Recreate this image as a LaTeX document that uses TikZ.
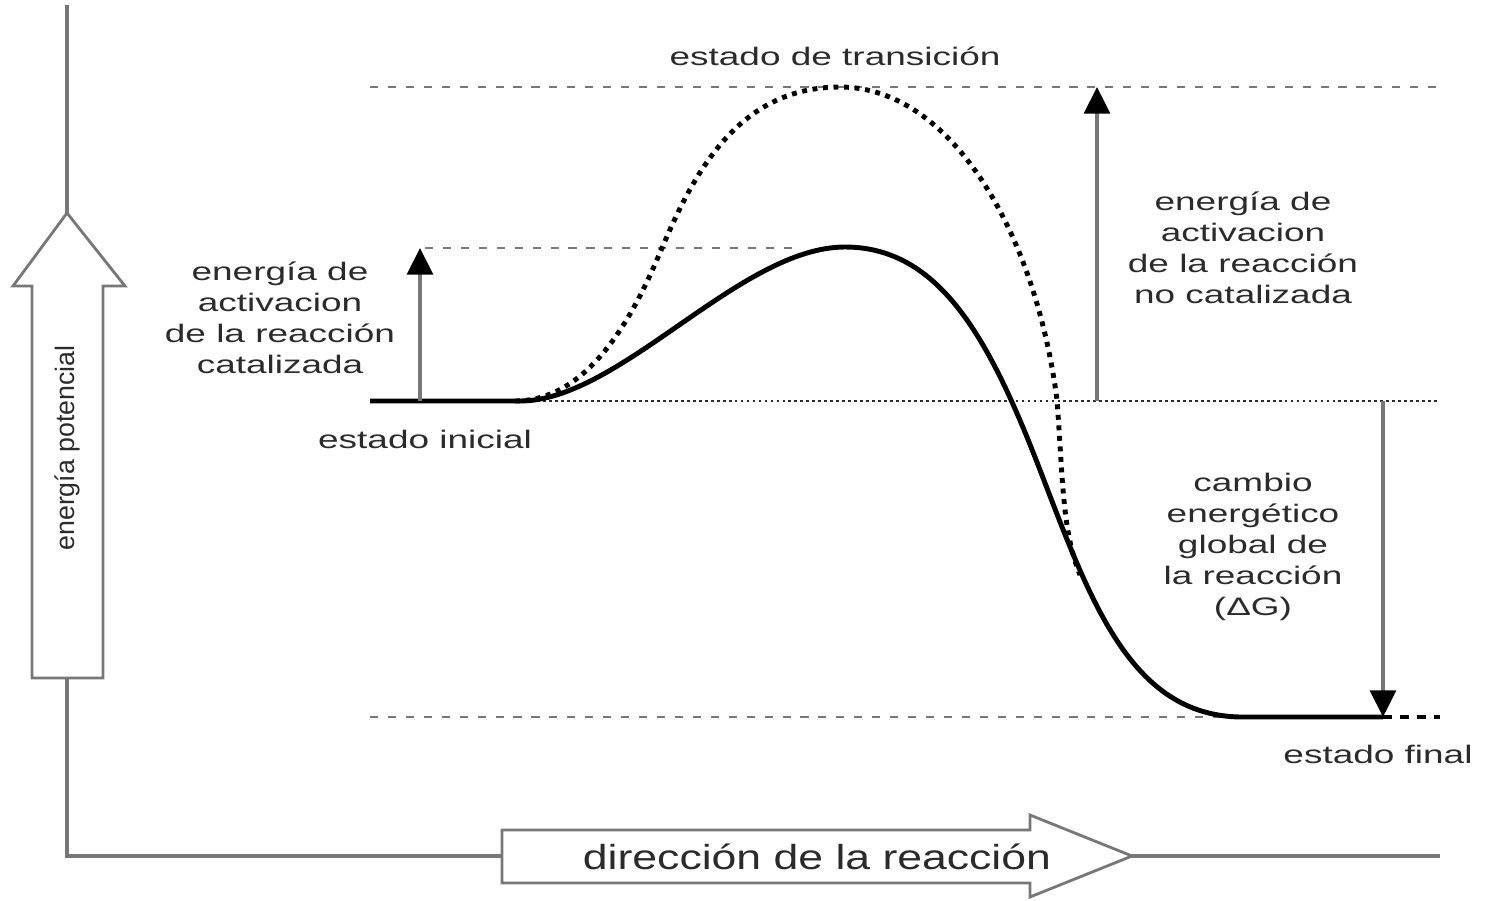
\documentclass[tikz,border=0pt]{standalone}
\usepackage{fontspec}
\setmainfont{Liberation Sans}
\usetikzlibrary{arrows.meta}
\definecolor{textogris}{HTML}{2B2B2B}
\definecolor{lineagris}{HTML}{777777}
\tikzset{
  rotulo/.style={text=textogris, font=\fontsize{7.2}{8.8}\selectfont, align=center, inner sep=0pt, xscale=1.46, transform shape},
  nivel/.style={lineagris, line width=0.8pt, dash pattern=on 2.3pt off 2.8pt},
  nivelfino/.style={textogris, line width=0.6pt, dash pattern=on 0.8pt off 0.9pt},
  flecha/.style={lineagris, line width=0.9pt, -{Triangle[width=7.4pt,length=7.6pt,color=black]}},
  curva/.style={black, line width=1.4pt},
  punteada/.style={black, line width=1.4pt, dash pattern=on 1.4pt off 1.6pt},
  hueca/.style={lineagris, line width=0.8pt, fill=white},
  eje/.style={lineagris, line width=0.9pt}
}
\begin{document}
\begin{tikzpicture}[x=0.01cm, y=-0.01cm]
			\useasboundingbox (0,0) rectangle (1488,900);
			\coordinate (o) at (67,856);
			\coordinate (top) at (67,5);
			\coordinate (fin) at (1440,856);
			\draw[eje] (top) -- (o) -- (fin);
			\draw[hueca] (32,678) -- (32,286) -- (13,286) -- (67,213) -- (125,286) -- (103,286) -- (103,678) -- cycle;
			\draw[hueca] (502,830) -- (1030,830) -- (1030,815) -- (1132,856) -- (1030,897) -- (1030,883) -- (502,883) -- cycle;
			\node[rotulo, xscale=1/1.46, rotate=90, font=\fontsize{7.6}{9}\selectfont] (potencial) at (67,448) {energía potencial};
			\node[rotulo, xscale=1.28/1.46, font=\fontsize{9.9}{12}\selectfont] (direccion) at (817,857) {dirección de la reacción};
			\draw[nivel] (370,87) -- (1440,87);
			\draw[nivel] (425,248) -- (800,248);
			\draw[nivel] (370,717) -- (1380,717);
			\draw[nivelfino] (370,401) -- (1440,401);
			\draw[punteada] (515,401) .. controls (595,401) and (640,300) .. (662,248)
			  .. controls (695,170) and (740,87) .. (840,87)
			  .. controls (950,87) and (1035,230) .. (1057,400)
			  .. controls (1063,480) and (1062,530) .. (1080,575);
			\draw[curva] (370,401) -- (520,401) .. controls (620,401) and (740,247) .. (845,247)
			  .. controls (940,247) and (990,340) .. (1040,470)
			  .. controls (1090,600) and (1130,715) .. (1240,717) -- (1383,717);
			\draw[black, line width=1.4pt, dash pattern=on 2.6pt off 2.2pt] (1383,717) -- (1440,717);
			\coordinate (ini1) at (420,401);
			\coordinate (cat) at (420,248);
			\coordinate (ini2) at (1097,401);
			\coordinate (trans) at (1097,87);
			\coordinate (ini3) at (1383,401);
			\coordinate (final) at (1383,717);
			\draw[flecha] (ini1) -- (cat);
			\draw[flecha] (ini2) -- (trans);
			\draw[flecha] (ini3) -- (final);
			\node[rotulo] (transicion) at (835,56) {estado de transición};
			\node[rotulo] (catalizada) at (280,318) {energía de\\activacion\\de la reacción\\catalizada};
			\node[rotulo] (inicial) at (425,439) {estado inicial};
			\node[rotulo] (nocatalizada) at (1243,248) {energía de\\activacion\\de la reacción\\no catalizada};
			\node[rotulo] (cambio) at (1253,547) {cambio\\energético\\global de\\la reacción\\(ΔG)};
			\node[rotulo] (estadofinal) at (1378,754) {estado final};
		\end{tikzpicture}
\end{document}
